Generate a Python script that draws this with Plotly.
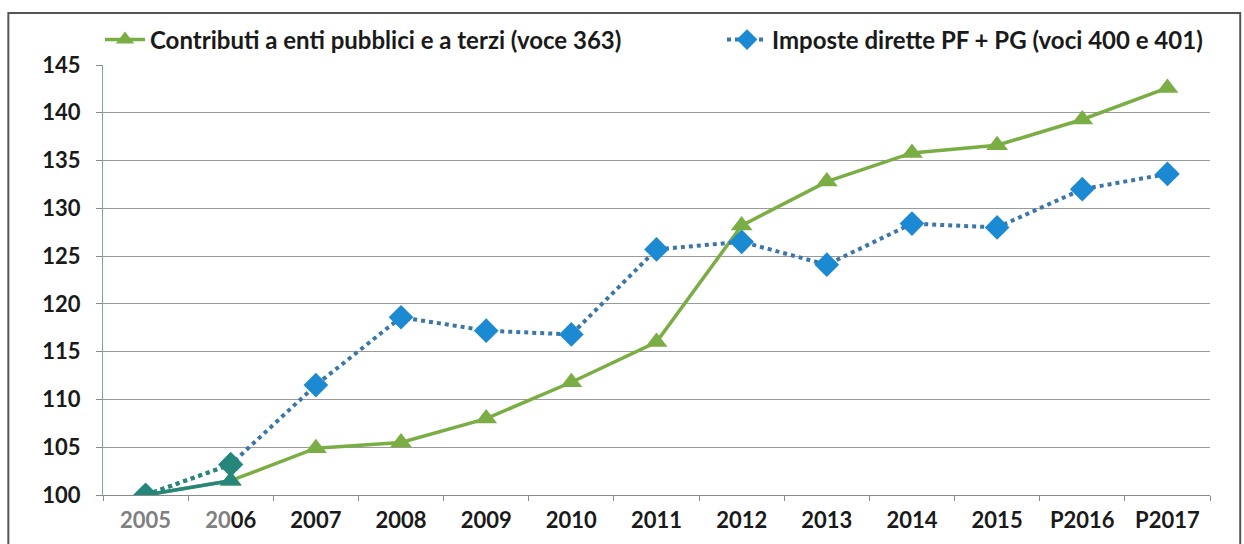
import plotly.graph_objects as go

categories = ["2005", "2006", "2007", "2008", "2009", "2010", "2011", "2012",
              "2013", "2014", "2015", "P2016", "P2017"]
tick_labels = ["<span style='color:#808080'>2005</span>",
               "<span style='color:#808080'>20</span>06",
               "2007", "2008", "2009", "2010", "2011", "2012",
               "2013", "2014", "2015", "P2016", "P2017"]
contributi = [100.0, 101.5, 104.9, 105.5, 108.0, 111.8, 116.0, 128.2,
              132.8, 135.8, 136.6, 139.3, 142.6]
imposte = [100.0, 103.2, 111.5, 118.6, 117.2, 116.8, 125.7, 126.5,
           124.1, 128.4, 128.0, 132.0, 133.6]
y_ticks = [100, 105, 110, 115, 120, 125, 130, 135, 140, 145]

name_c = "Contributi a enti pubblici e a terzi (voce 363)"
name_i = "Imposte dirette PF + PG (voci 400 e 401)"

GREEN = "#7aae45"
BLUE = "#1b8ad3"
DOT = "#3a77a8"
TEAL = "#27867a"
FONT = "Lato, 'Open Sans', sans-serif"

fig = go.Figure()

fig.add_trace(go.Scatter(
    x=categories, y=contributi, name=name_c, mode="lines+markers",
    line=dict(color=GREEN, width=3.5), legend="legend",
    marker=dict(symbol="triangle-up", size=19, color=GREEN),
))
fig.add_trace(go.Scatter(
    x=categories, y=imposte, name=name_i, mode="lines+markers",
    line=dict(color=DOT, width=4, dash="dot"), legend="legend2",
    marker=dict(symbol="diamond", size=19, color=BLUE),
))
# teal tint of the first segment (as in the scanned original)
fig.add_trace(go.Scatter(
    x=categories[:2], y=imposte[:2], mode="lines+markers", showlegend=False,
    line=dict(color=TEAL, width=4, dash="dot"), hoverinfo="skip",
    marker=dict(symbol="diamond", size=19, color=TEAL),
))
fig.add_trace(go.Scatter(
    x=categories[:2], y=contributi[:2], mode="lines+markers", showlegend=False,
    line=dict(color=TEAL, width=3.5), hoverinfo="skip",
    marker=dict(symbol="triangle-up", size=19, color=TEAL),
))

legend_common = dict(orientation="h", yref="container", y=1 - 40 / 544,
                     yanchor="middle", xref="container", xanchor="left",
                     font=dict(family=FONT, size=24, color="#1a1a1a",
                               weight="bold"),
                     bgcolor="rgba(0,0,0,0)", itemwidth=40)

fig.update_layout(
    width=1244, height=544,
    margin=dict(l=103, r=34, t=65, b=49, autoexpand=False),
    paper_bgcolor="white", plot_bgcolor="white",
    font=dict(family=FONT, size=23, color="#1a1a1a"),
    showlegend=True,
    legend=dict(legend_common, x=100 / 1244),
    legend2=dict(legend_common, x=722 / 1244),
    shapes=[dict(type="rect", xref="paper", yref="paper",
                 x0=-0.0855, x1=1.0273, y0=1.121, y1=-0.3,
                 line=dict(color="#555", width=2), layer="below")],
)

fig.update_xaxes(
    type="category", tickmode="array", tickvals=categories, ticktext=tick_labels,
    range=[-0.5, len(categories) - 0.5],
    showgrid=False, showline=True, linecolor="#8a8a8a", linewidth=1,
    ticks="outside", ticklen=5, tickcolor="#8a8a8a", tickson="boundaries",
    tickfont=dict(size=22, color="#1a1a1a", weight="bold"), automargin=False,
    ticklabelstandoff=6,
)
fig.update_yaxes(
    range=[100, 145], tickvals=y_ticks, showgrid=True, gridcolor="#9a9a9a",
    gridwidth=1, showline=True, linecolor="#7fa8a0", linewidth=1,
    ticks="outside", ticklen=6, tickcolor="#8a8a8a", zeroline=False,
    tickfont=dict(size=22, color="#1a1a1a", weight="bold"), ticklabelstandoff=11,
    automargin=False,
)

fig.write_html("out.html", config={"displayModeBar": False},
               post_script="document.body.style.margin='0';document.body.style.padding='0';")
